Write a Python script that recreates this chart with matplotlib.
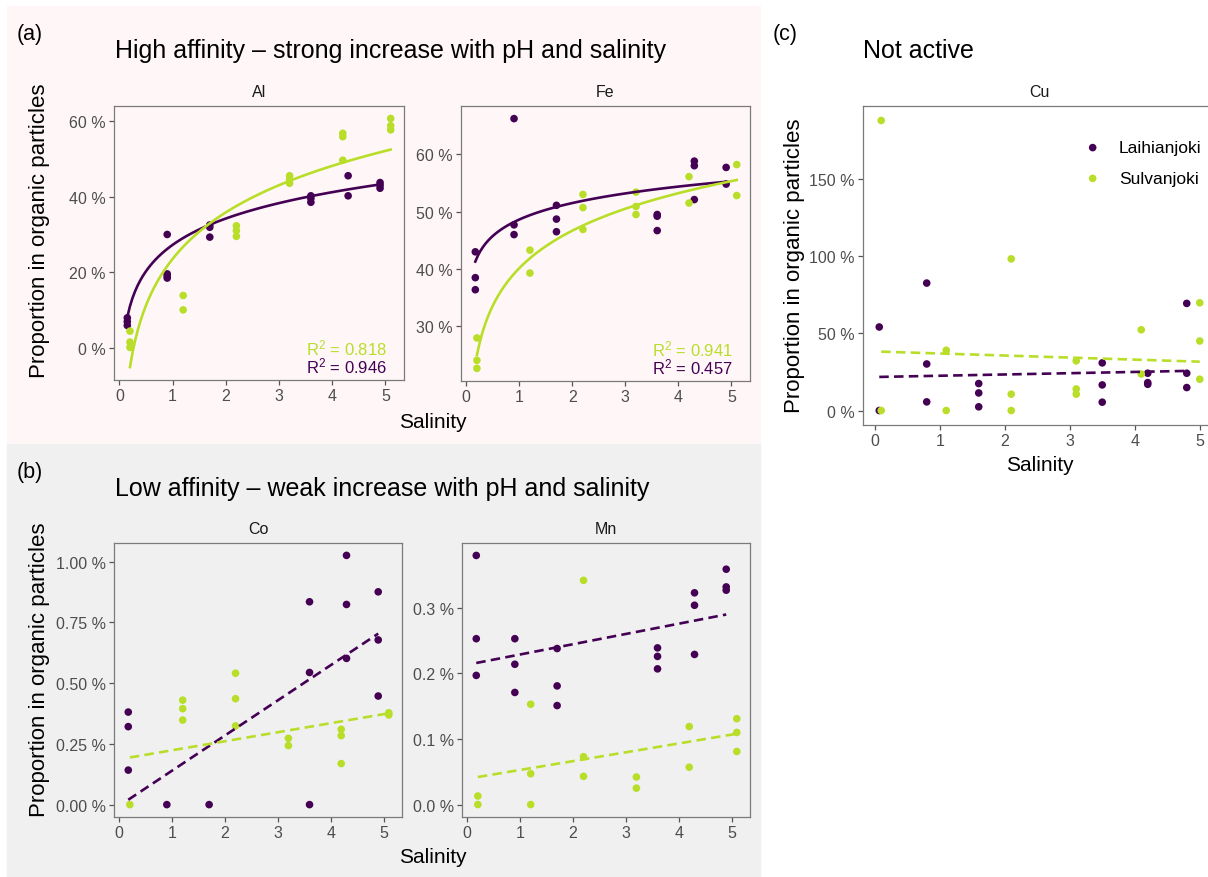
import numpy as np
import matplotlib
matplotlib.use('Agg')
import matplotlib.pyplot as plt
from matplotlib.patches import Rectangle

plt.rcParams['font.family'] = ['Liberation Sans', 'DejaVu Sans']
plt.rcParams['mathtext.default'] = 'regular'

# --- data (values in %) ---
al_lai_x = [0.15, 0.15, 0.15, 0.9, 0.9, 0.9, 0.9, 1.7, 1.7, 1.7, 3.6, 3.6, 3.6, 4.3, 4.3, 4.9, 4.9, 4.9]
al_lai_y = [8.0, 7.0, 6.0, 30.0, 19.6, 19.0, 18.5, 32.5, 31.9, 29.3, 40.2, 39.5, 38.5, 45.5, 40.2, 43.7, 43.0, 42.2]
al_sul_x = [0.2, 0.2, 0.2, 1.2, 1.2, 2.2, 2.2, 2.2, 3.2, 3.2, 3.2, 4.2, 4.2, 4.2, 5.1, 5.1, 5.1]
al_sul_y = [4.5, 1.6, 0.2, 13.9, 10.1, 32.3, 31.0, 29.5, 45.5, 44.6, 43.5, 56.7, 55.8, 49.6, 60.6, 58.7, 57.6]

fe_lai_x = [0.17, 0.17, 0.17, 0.9, 0.9, 0.9, 1.7, 1.7, 1.7, 3.6, 3.6, 3.6, 4.3, 4.3, 4.3, 4.9, 4.9]
fe_lai_y = [43.0, 38.5, 36.4, 66.2, 47.7, 46.0, 51.1, 48.7, 46.5, 49.5, 49.2, 46.7, 58.8, 58.0, 52.1, 57.7, 54.8]
fe_sul_x = [0.2, 0.2, 0.2, 1.2, 1.2, 2.2, 2.2, 2.2, 3.2, 3.2, 3.2, 4.2, 4.2, 5.1, 5.1]
fe_sul_y = [28.0, 24.1, 22.7, 43.3, 39.3, 53.0, 50.7, 46.9, 53.4, 50.9, 49.5, 56.1, 51.5, 58.2, 52.8]

co_lai_x = [0.17, 0.17, 0.17, 0.9, 1.7, 3.6, 3.6, 3.6, 4.3, 4.3, 4.3, 4.9, 4.9, 4.9]
co_lai_y = [0.381, 0.321, 0.142, 0.0, 0.0, 0.835, 0.544, 0.0, 1.026, 0.824, 0.602, 0.876, 0.678, 0.447]
co_sul_x = [0.2, 1.2, 1.2, 1.2, 2.2, 2.2, 2.2, 3.2, 3.2, 4.2, 4.2, 4.2, 5.1, 5.1]
co_sul_y = [0.0, 0.430, 0.395, 0.348, 0.541, 0.436, 0.324, 0.273, 0.243, 0.310, 0.284, 0.169, 0.378, 0.369]

mn_lai_x = [0.17, 0.17, 0.17, 0.9, 0.9, 0.9, 1.7, 1.7, 1.7, 3.6, 3.6, 3.6, 4.3, 4.3, 4.3, 4.9, 4.9, 4.9]
mn_lai_y = [0.380, 0.253, 0.197, 0.253, 0.214, 0.171, 0.238, 0.181, 0.151, 0.239, 0.226, 0.207,
            0.323, 0.304, 0.229, 0.359, 0.332, 0.327]
mn_sul_x = [0.2, 0.2, 1.2, 1.2, 1.2, 2.2, 2.2, 2.2, 3.2, 3.2, 4.2, 4.2, 5.1, 5.1, 5.1]
mn_sul_y = [0.013, 0.0, 0.153, 0.047, 0.0, 0.342, 0.073, 0.043, 0.042, 0.025, 0.119, 0.057, 0.131, 0.110, 0.081]

cu_lai_x = [0.07, 0.07, 0.8, 0.8, 0.8, 1.6, 1.6, 1.6, 3.5, 3.5, 3.5, 4.2, 4.2, 4.2, 4.8, 4.8, 4.8]
cu_lai_y = [54.2, 0.0, 82.7, 30.2, 5.6, 17.5, 11.4, 2.4, 30.9, 16.6, 5.4, 24.2, 18.1, 17.0, 69.5, 24.2, 14.9]
cu_sul_x = [0.1, 0.1, 1.1, 1.1, 2.1, 2.1, 2.1, 3.1, 3.1, 3.1, 4.1, 4.1, 5.0, 5.0, 5.0]
cu_sul_y = [188.2, 0.0, 39.1, 0.0, 98.4, 10.6, 0.0, 32.2, 14.0, 10.6, 52.4, 23.7, 69.9, 45.1, 20.3]

# fitted trend coefficients: (intercept, slope)
# (a) y = a + b*ln(x); (b), (c) y = a + b*x
al_fit = [(27.24, 10.04), (23.53, 17.72)]      # Laihianjoki, Sulvanjoki
fe_fit = [(48.63, 4.136), (40.16, 9.416)]
co_fit = [(-0.0046, 0.1446), (0.1866, 0.03714)]
mn_fit = [(0.2133, 0.01564), (0.0393, 0.01347)]
cu_fit = [(21.74, 0.8245), (38.33, -1.327)]

al_r2 = ['0.818', '0.946']   # Sulvanjoki, Laihianjoki
fe_r2 = ['0.941', '0.457']

rivers = ['Laihianjoki', 'Sulvanjoki']
PURPLE = '#440154'
GREEN = '#B8DE29'
PINK = '#FFF7F7'
GREY = '#F0F0F0'

W, H = 1208, 878
fig = plt.figure(figsize=(W / 100, H / 100), dpi=100)


def box(l, t, r, b):
    return [l / W, 1 - b / H, (r - l) / W, (b - t) / H]


def ftext(x, y, s, **kw):
    fig.text(x / W, 1 - y / H, s, **kw)


fig.patches.append(Rectangle((7 / W, 1 - 445 / H), 753 / W, 438 / H,
                             transform=fig.transFigure, color=PINK, zorder=-10))
fig.patches.append(Rectangle((7 / W, 0), 753 / W, 433 / H,
                             transform=fig.transFigure, color=GREY, zorder=-10))


def panel(rect, name, lai, sul, fits, kind, ylim, yticks, ylabels, xlim=(-0.1, 5.35)):
    ax = fig.add_axes(rect)
    ax.set_facecolor('none')
    handles = []
    for (x, y), c, lab in zip([lai, sul], [PURPLE, GREEN], rivers):
        h = ax.scatter(x, y, s=30, color=c, edgecolors='none', zorder=3, label=lab)
        handles.append(h)
    for (x, y), (a, b), c in zip([lai, sul], fits, [PURPLE, GREEN]):
        xs = np.linspace(min(x), max(x), 100)
        if kind == 'log':
            ax.plot(xs, a + b * np.log(xs), color=c, lw=1.9, zorder=4)
        else:
            ax.plot(xs, a + b * xs, color=c, lw=1.9, ls=(0, (3.6, 2.0)), zorder=4)
    ax.set_xlim(*xlim)
    ax.set_ylim(*ylim)
    ax.set_xticks([0, 1, 2, 3, 4, 5])
    ax.set_yticks(yticks)
    ax.set_yticklabels(ylabels)
    for sp in ax.spines.values():
        sp.set_color('#7A7A7A')
        sp.set_linewidth(0.9)
    ax.tick_params(length=3.5, width=0.9, color='#555555', labelcolor='#4D4D4D',
                   labelsize=11.5, pad=2.5)
    ax.set_title(name, fontsize=11.5, color='#1A1A1A', pad=7)
    return ax, handles


ax_al, _ = panel(box(114, 107, 404, 381), 'Al', (al_lai_x, al_lai_y), (al_sul_x, al_sul_y), al_fit, 'log',
                 (-8.4, 63.9), [0, 20, 40, 60], ['0 %', '20 %', '40 %', '60 %'])
ax_fe, _ = panel(box(461, 107, 750, 382), 'Fe', (fe_lai_x, fe_lai_y), (fe_sul_x, fe_sul_y), fe_fit, 'log',
                 (20.5, 68.4), [30, 40, 50, 60], ['30 %', '40 %', '50 %', '60 %'])
ax_co, _ = panel(box(114, 544, 402, 818), 'Co', (co_lai_x, co_lai_y), (co_sul_x, co_sul_y), co_fit, 'lin',
                 (-0.051, 1.077), [0, 0.25, 0.5, 0.75, 1.0],
                 ['0.00 %', '0.25 %', '0.50 %', '0.75 %', '1.00 %'])
ax_mn, _ = panel(box(462, 544, 750, 818), 'Mn', (mn_lai_x, mn_lai_y), (mn_sul_x, mn_sul_y), mn_fit, 'lin',
                 (-0.019, 0.399), [0, 0.1, 0.2, 0.3], ['0.0 %', '0.1 %', '0.2 %', '0.3 %'])
ax_cu, cu_handles = panel(box(863, 107, 1216, 426), 'Cu', (cu_lai_x, cu_lai_y), (cu_sul_x, cu_sul_y), cu_fit,
                          'lin', (-9.4, 197.6), [0, 50, 100, 150], ['0 %', '50 %', '100 %', '150 %'],
                          xlim=(-0.18, 5.25))

for ax, r2 in [(ax_al, al_r2), (ax_fe, fe_r2)]:
    ax.text(0.941, 0.092, r'R$^2$ = ' + r2[0], transform=ax.transAxes, ha='right',
            va='baseline', fontsize=12, color=GREEN)
    ax.text(0.941, 0.029, r'R$^2$ = ' + r2[1], transform=ax.transAxes, ha='right',
            va='baseline', fontsize=12, color=PURPLE)

ax_cu.legend(handles=cu_handles, loc='upper left', bbox_to_anchor=(1084 / W, 1 - 141 / H),
             bbox_transform=fig.transFigure, frameon=False, borderpad=0, borderaxespad=0,
             handlelength=1.0, handletextpad=1.0, labelspacing=0.9, fontsize=12.5,
             scatterpoints=1)

# panel letters, titles, axis titles
for x, y, s in [(17, 40, '(a)'), (17, 478, '(b)'), (773, 40, '(c)')]:
    ftext(x, y, s, fontsize=15.5, va='baseline')
for x, y, s in [(115, 58, 'High affinity \u2013 strong increase with pH and salinity'),
                (115, 496, 'Low affinity \u2013 weak increase with pH and salinity'),
                (863, 58, 'Not active')]:
    ftext(x, y, s, fontsize=18, va='baseline')
for x, y in [(433, 423), (433, 858), (1040, 466)]:
    ftext(x, y, 'Salinity', fontsize=15, ha='center', va='center')
for x, y in [(40, 231), (40, 670), (795, 266)]:
    ftext(x, y, 'Proportion in organic particles', fontsize=16, rotation=90,
          ha='center', va='center')

fig.savefig('out.png', dpi=100)
